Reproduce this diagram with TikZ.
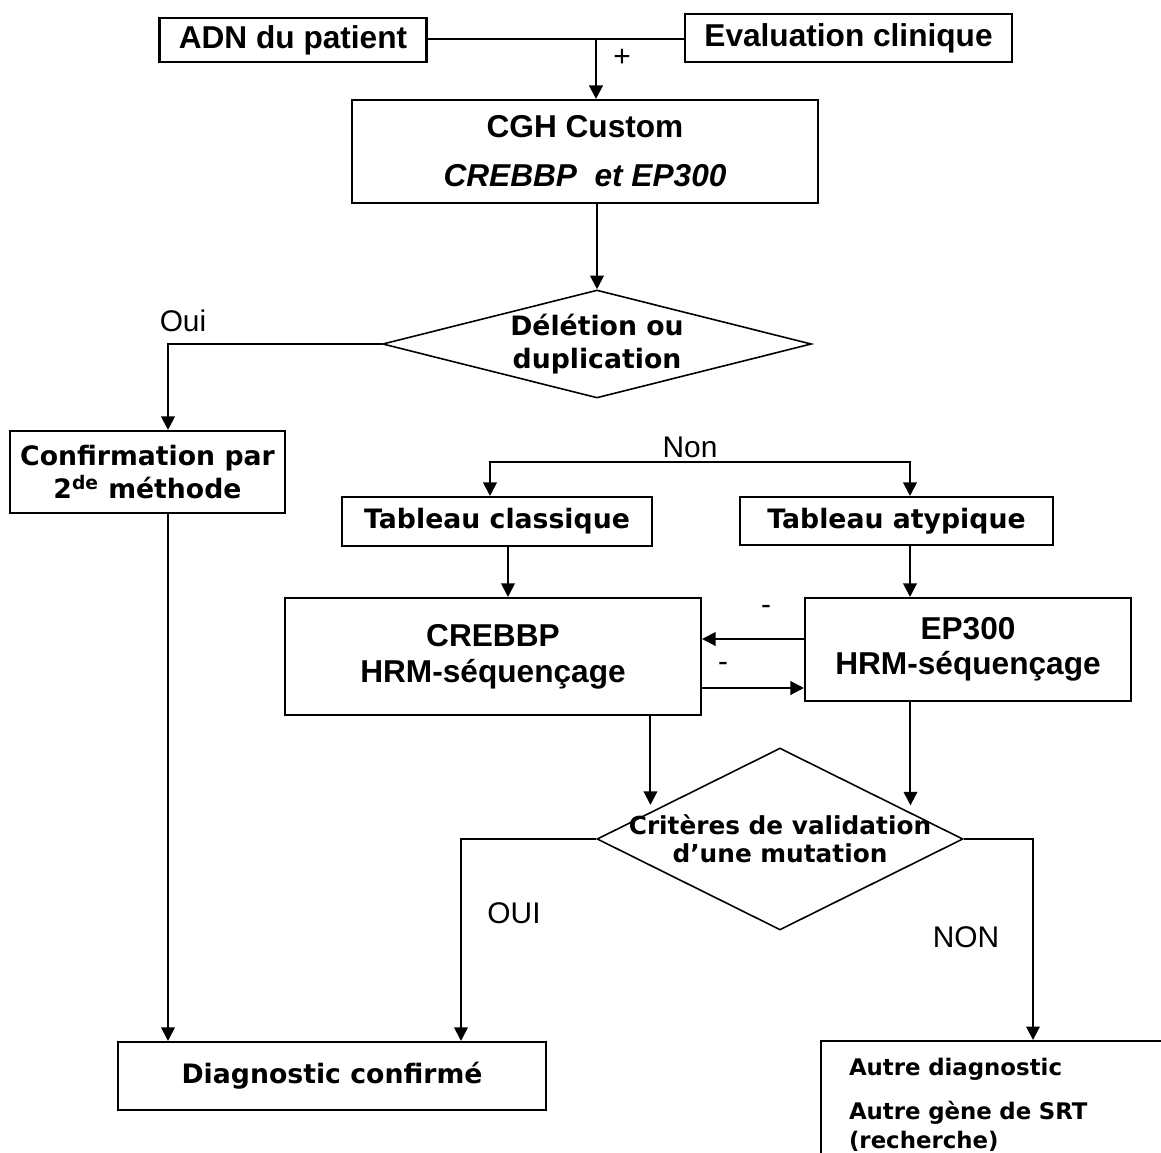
\documentclass[tikz,border=0pt]{standalone}
\usepackage{fontspec}
\setmainfont{Liberation Sans}
\newfontfamily\verdfont{DejaVu Sans}
\usetikzlibrary{shapes.geometric,arrows.meta,calc,positioning}

\tikzset{
  box/.style={draw, line width=1.2pt, inner sep=0pt, align=center,
    font=\bfseries\fontsize{18}{20}\selectfont},
  vbox/.style={box, font=\verdfont\bfseries\fontsize{15.2}{18.7}\selectfont},
  decision/.style={diamond, draw, line width=0.9pt, inner sep=0pt},
  dtext/.style={align=center, inner sep=0pt,
    font=\verdfont\bfseries\fontsize{15.2}{18.7}\selectfont},
  lbl/.style={inner sep=0pt, font=\fontsize{17}{20}\selectfont},
  line/.style={line width=1.15pt},
  arrow/.style={line, -{Triangle[length=0.27cm,width=0.27cm]}}
}

\begin{document}
\begin{tikzpicture}[x=0.02cm, y=-0.02cm]
  \clip (0,0) rectangle (1161,1153);

  % inputs
  \node[box, minimum width=5.34cm, minimum height=0.88cm] (adn) at (293,40) {ADN du patient};
  \node[box, minimum width=6.54cm, minimum height=0.96cm] (eval) at (848.5,38) {Evaluation clinique};
  \node[box, minimum width=9.32cm, minimum height=2.06cm] (cgh) at (585,151.5)
    {CGH Custom\\[7.8pt]\textit{CREBBP\ \ et EP300}};
  \coordinate (join) at (596,39);
  \draw[line] (adn.east |- join) -- (eval.west |- join);
  \draw[arrow, line width=1.5pt] (join) -- (join |- cgh.north);
  \node[lbl] (plus) at (622,58) {+};

  % deletion or duplication
  \node[decision, minimum width=8.58cm, minimum height=2.16cm,
    label={[dtext]center:{Délétion ou\\duplication}}] (del) at (597,344) {};
  \draw[arrow] (del.north |- cgh.south) -- (del.north);

  % Oui branch
  \coordinate (colL) at (168,0);
  \node[vbox, minimum width=5.5cm, minimum height=1.64cm] (conf) at (147.5,472)
    {Confirmation par\\2\textsuperscript{de} méthode};
  \draw[arrow] (del.west) -| (colL |- conf.north);
  \node[lbl] (oui) at (183,321) {Oui};
  \node[vbox, minimum width=8.56cm, minimum height=1.36cm] (diag) at (332,1076) {Diagnostic confirmé};
  \draw[arrow] (colL |- conf.south) -- (colL |- diag.north);

  % Non branch
  \node[vbox, minimum width=6.2cm, minimum height=0.98cm] (tclass) at (497,521.5) {Tableau classique};
  \node[vbox, minimum width=6.26cm, minimum height=0.96cm] (tatyp) at (896.5,521) {Tableau atypique};
  \coordinate (non) at (690,462);
  \coordinate (colA) at (490,0);
  \coordinate (colB) at (910,0);
  \draw[arrow] (non) -| (colA |- tclass.north);
  \draw[arrow] (non) -| (colB |- tatyp.north);
  \node[lbl] (nonlbl) at (690,447) {Non};

  % sequencing
  \node[box, minimum width=8.32cm, minimum height=2.34cm] (crebbp) at (493,656.5)
    {CREBBP\\[0.4pt]HRM-séquençage};
  \node[box, minimum width=6.52cm, minimum height=2.06cm] (ep300) at (968,649.5)
    {EP300\\HRM-séquençage};
  \coordinate (colC) at (508,0);
  \draw[arrow] (colC |- tclass.south) -- (colC |- crebbp.north);
  \draw[arrow] (colB |- tatyp.south) -- (colB |- ep300.north);
  \coordinate (rowA) at (0,639);
  \coordinate (rowB) at (0,688);
  \draw[arrow] (ep300.west |- rowA) -- (crebbp.east |- rowA);
  \draw[arrow] (crebbp.east |- rowB) -- (ep300.west |- rowB);
  \node[lbl] (minA) at (766,610) {-};
  \node[lbl] (minB) at (723,667) {-};

  % validation
  \node[decision, minimum width=7.32cm, minimum height=3.64cm,
    label={[dtext, font=\verdfont\bfseries\fontsize{14.1}{15.9}\selectfont]center:{Critères de validation\\d’une mutation}}]
    (crit) at (780,839) {};
  \coordinate (inA) at ($(crit.west)!0.295!(crit.north)$);
  \coordinate (inB) at ($(crit.north)!0.71!(crit.east)$);
  \draw[arrow, shorten >=4pt] (inA |- crebbp.south) -- (inA);
  \draw[arrow, shorten >=4pt] (inB |- ep300.south) -- (inB);

  % outcomes
  \coordinate (colD) at (461,0);
  \coordinate (colE) at (1033,0);
  \draw[arrow] (crit.west) -| (colD |- diag.north);
  \node[lbl] (ouiB) at (514,913) {OUI};
  \node[vbox, anchor=north west, text width=7cm, align=left, inner xsep=0.56cm, inner ysep=0.35cm,
    font=\verdfont\bfseries\fontsize{13}{16.4}\selectfont] (autre) at (820,1040)
    {Autre diagnostic\\[8.6pt]Autre gène de SRT\\(recherche)};
  \draw[arrow] (crit.east) -| (colE |- autre.north);
  \node[lbl] (nonB) at (966,937) {NON};
\end{tikzpicture}
\end{document}
